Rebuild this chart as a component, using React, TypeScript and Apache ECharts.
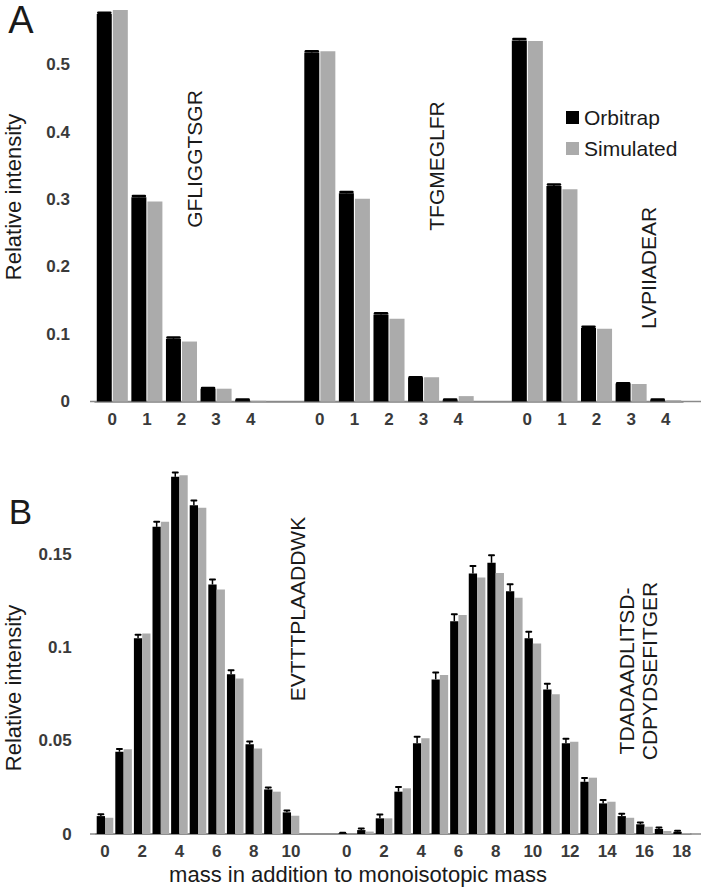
import React, { useEffect, useRef } from "react";
import * as echarts from "echarts";

// ---------- Panel A data ----------
const massLabelsA = ["0", "1", "2", "3", "4"];
const gfliggtsgrOrbitrap = [0.575, 0.303, 0.093, 0.019, 0.002];
const gfliggtsgrSimulated = [0.581, 0.297, 0.089, 0.019, 0.001];
const gfliggtsgrError = [0.002, 0.002, 0.002, 0.001, 0.001];
const tfgmeglfrOrbitrap = [0.518, 0.309, 0.129, 0.035, 0.002];
const tfgmeglfrSimulated = [0.52, 0.301, 0.123, 0.036, 0.008];
const tfgmeglfrError = [0.002, 0.002, 0.002, 0.001, 0.001];
const lvpiiadearOrbitrap = [0.536, 0.32, 0.109, 0.026, 0.002];
const lvpiiadearSimulated = [0.535, 0.315, 0.108, 0.026, 0.002];
const lvpiiadearError = [0.002, 0.002, 0.002, 0.001, 0.001];

// ---------- Panel B data ----------
const massLabelsB1 = ["0", "1", "2", "3", "4", "5", "6", "7", "8", "9", "10"];
const evtOrbitrap = [0.0096, 0.0441, 0.1049, 0.1647, 0.1915, 0.1763, 0.1338, 0.0856, 0.0481, 0.0239, 0.0116];
const evtSimulated = [0.0087, 0.0454, 0.1075, 0.1674, 0.1924, 0.1749, 0.1311, 0.0834, 0.0459, 0.0227, 0.0098];
const evtError = [0.001, 0.0015, 0.002, 0.0027, 0.0023, 0.0025, 0.0027, 0.0022, 0.0015, 0.001, 0.001];

const massLabelsB2 = ["0", "1", "2", "3", "4", "5", "6", "7", "8", "9", "10", "11", "12", "13", "14", "15", "16", "17", "18"];
const tdaOrbitrap = [0.0004, 0.0021, 0.0084, 0.0227, 0.0486, 0.0829, 0.1141, 0.1397, 0.1454, 0.1302, 0.1049, 0.0775, 0.0486, 0.028, 0.0164, 0.0096, 0.0052, 0.0027, 0.0012];
const tdaSimulated = [0, 0.0013, 0.0084, 0.0245, 0.0513, 0.0852, 0.1174, 0.1376, 0.14, 0.1267, 0.1022, 0.0749, 0.0495, 0.0302, 0.0173, 0.0087, 0.0039, 0.0016, 0.0005];
const tdaError = [0.0003, 0.0008, 0.002, 0.0025, 0.0035, 0.0037, 0.0037, 0.004, 0.004, 0.0037, 0.0035, 0.003, 0.0025, 0.002, 0.0018, 0.0012, 0.001, 0.0008, 0.0005];

const peptideNamesA = ["GFLIGGTSGR", "TFGMEGLFR", "LVPIIADEAR"];
const peptideNamesB = ["EVTTTPLAADDWK", "TDADAADLITSD-\nCDPYDSEFITGER"];
const panelLetters = ["A", "B"];
const seriesNames = ["Orbitrap", "Simulated"];
const yTitle = "Relative intensity";
const xTitle = "mass in addition to monoisotopic mass";

const FONT = "Liberation Sans, Arial, Helvetica, sans-serif";
const BLACK = "#000000";
const GREY = "#ababab";
const TEXT = "#1a1a1a";
const TICK = "#3a3a3a";
const AXIS = "#8a8a8a";

// ---------- build combined category rows ----------
const catsA = [...massLabelsA, "", ...massLabelsA, "", ...massLabelsA];
const orbiA = [...gfliggtsgrOrbitrap, null, ...tfgmeglfrOrbitrap, null, ...lvpiiadearOrbitrap];
const simA = [...gfliggtsgrSimulated, null, ...tfgmeglfrSimulated, null, ...lvpiiadearSimulated];
const errA = [...gfliggtsgrError, null, ...tfgmeglfrError, null, ...lvpiiadearError];

const catsB = [...massLabelsB1, "", "", ...massLabelsB2];
const orbiB = [...evtOrbitrap, null, null, ...tdaOrbitrap];
const simB = [...evtSimulated, null, null, ...tdaSimulated];
const errB = [...evtError, null, null, ...tdaError];

const errData = (vals: (number | null)[], errs: (number | null)[]) =>
  vals
    .map((v, i) => (v == null ? null : [i, v, errs[i] as number]))
    .filter((d) => d !== null) as number[][];

const makeErrorRender = (offset: number, capHalf: number, capWidth: number) =>
  (params: any, api: any) => {
    const cat = api.value(0);
    const v = api.value(1);
    const e = api.value(2);
    const base = api.coord([cat, v]);
    const top = api.coord([cat, v + e]);
    const x = base[0] + offset;
    return {
      type: "group",
      children: [
        {
          type: "line",
          shape: { x1: x, y1: base[1], x2: x, y2: top[1] },
          style: { stroke: BLACK, lineWidth: 1.5 },
        },
        {
          type: "line",
          shape: { x1: x - capHalf, y1: top[1], x2: x + capHalf, y2: top[1] },
          style: { stroke: BLACK, lineWidth: capWidth, lineCap: "round" },
        },
      ],
    };
  };

export default function App() {
  const ref = useRef<HTMLDivElement>(null);

  useEffect(() => {
    if (!ref.current) return;
    const chart = echarts.init(ref.current, undefined, { renderer: "svg" });

    const axisLabelStyle = { color: TICK, fontSize: 17, fontWeight: "bold" as const, fontFamily: FONT };

    const textStyle = (size: number, text: string) => ({
      text,
      fontSize: size,
      fontFamily: FONT,
      fill: TEXT,
      align: "center",
      verticalAlign: "middle",
    });

    const option: any = {
      animation: false,
      backgroundColor: "#ffffff",
      textStyle: { fontFamily: FONT },
      legend: {
        data: seriesNames,
        orient: "vertical",
        left: 561,
        top: 102,
        itemWidth: 13,
        itemHeight: 13,
        itemGap: 10,
        icon: "rect",
        textStyle: { fontSize: 21, color: TEXT, fontFamily: FONT },
      },
      grid: [
        { left: 95, right: 21, top: 4, bottom: 492.5 },
        { left: 95.7, right: 13, top: 461, bottom: 60 },
      ],
      xAxis: [
        {
          type: "category",
          gridIndex: 0,
          data: catsA,
          axisTick: { show: false },
          axisLine: { lineStyle: { color: AXIS, width: 1.5 } },
          axisLabel: { ...axisLabelStyle, interval: 0, margin: 9 },
        },
        {
          type: "category",
          gridIndex: 1,
          data: catsB,
          axisTick: { show: false },
          axisLine: { lineStyle: { color: AXIS, width: 1.5 } },
          axisLabel: {
            ...axisLabelStyle,
            interval: 0,
            margin: 9,
            formatter: (v: string) => (v !== "" && Number(v) % 2 === 0 ? v : ""),
          },
        },
      ],
      yAxis: [
        {
          type: "value",
          gridIndex: 0,
          min: 0,
          max: 0.59,
          interval: 0.1,
          axisLine: { show: false },
          axisTick: { show: false },
          splitLine: { show: false },
          axisLabel: { ...axisLabelStyle, margin: 25, showMaxLabel: false },
        },
        {
          type: "value",
          gridIndex: 1,
          min: 0,
          max: 0.2,
          interval: 0.05,
          axisLine: { show: false },
          axisTick: { show: false },
          splitLine: { show: false },
          axisLabel: { ...axisLabelStyle, margin: 24, showMaxLabel: false },
        },
      ],
      series: [
        {
          name: seriesNames[0],
          type: "bar",
          xAxisIndex: 0,
          yAxisIndex: 0,
          data: orbiA,
          barWidth: 15,
          barGap: "7%",
          itemStyle: { color: BLACK },
        },
        {
          name: seriesNames[1],
          type: "bar",
          xAxisIndex: 0,
          yAxisIndex: 0,
          data: simA,
          barWidth: 15,
          barGap: "7%",
          itemStyle: { color: GREY },
        },
        {
          name: "errA",
          type: "custom",
          xAxisIndex: 0,
          yAxisIndex: 0,
          data: errData(orbiA, errA),
          renderItem: makeErrorRender(-8, 6, 2.5),
          z: 5,
        },
        {
          name: seriesNames[0],
          type: "bar",
          xAxisIndex: 1,
          yAxisIndex: 1,
          data: orbiB,
          barWidth: 8.3,
          barGap: "0%",
          itemStyle: { color: BLACK },
        },
        {
          name: seriesNames[1],
          type: "bar",
          xAxisIndex: 1,
          yAxisIndex: 1,
          data: simB,
          barWidth: 8.3,
          barGap: "0%",
          itemStyle: { color: GREY },
        },
        {
          name: "errB",
          type: "custom",
          xAxisIndex: 1,
          yAxisIndex: 1,
          data: errData(orbiB, errB),
          renderItem: makeErrorRender(-4.15, 2.5, 2),
          z: 5,
        },
      ],
      graphic: [
        // axis-line extensions (the original baselines run slightly past the bars)
        { type: "line", shape: { x1: 90, y1: 401.5, x2: 701, y2: 401.5 }, style: { stroke: AXIS, lineWidth: 1.5 }, z: 0 },
        { type: "line", shape: { x1: 90, y1: 834, x2: 701, y2: 834 }, style: { stroke: AXIS, lineWidth: 1.5 }, z: 0 },
        { type: "text", x: 21, y: 20, style: textStyle(38, panelLetters[0]) },
        { type: "text", x: 20.5, y: 511, style: textStyle(35, panelLetters[1]) },
        { type: "text", x: 13, y: 197, rotation: Math.PI / 2, style: textStyle(22, yTitle) },
        { type: "text", x: 13, y: 688, rotation: Math.PI / 2, style: textStyle(22, yTitle) },
        { type: "text", x: 358, y: 874, style: textStyle(22, xTitle) },
        { type: "text", x: 194, y: 159, rotation: Math.PI / 2, style: textStyle(21, peptideNamesA[0]) },
        { type: "text", x: 436, y: 166, rotation: Math.PI / 2, style: textStyle(21, peptideNamesA[1]) },
        { type: "text", x: 648, y: 268, rotation: Math.PI / 2, style: textStyle(21, peptideNamesA[2]) },
        { type: "text", x: 297, y: 609, rotation: Math.PI / 2, style: textStyle(21, peptideNamesB[0]) },
        { type: "text", x: 638, y: 671, rotation: Math.PI / 2, style: { ...textStyle(21, peptideNamesB[1]), lineHeight: 23 } },
      ],
    };

    chart.setOption(option);
    return () => chart.dispose();
  }, []);

  return (
    <div
      ref={ref}
      style={{ position: "absolute", left: 0, top: 0, width: 704, height: 894, background: "#fff" }}
    />
  );
}
